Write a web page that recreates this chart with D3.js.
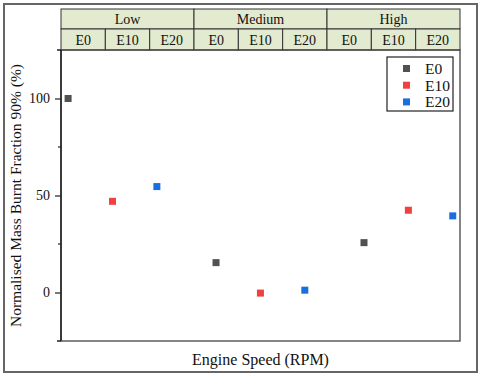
<!DOCTYPE html>
<html>
<head>
<meta charset="utf-8">
<script src="https://cdn.jsdelivr.net/npm/d3@7"></script>
<style>
  body { margin: 0; background: #fff; }
  text { font-family: "Liberation Serif", "Times New Roman", serif; fill: #111; }
</style>
</head>
<body>
<svg id="chart" width="480" height="377"></svg>
<script>
// speed groups and fuel blends
var groups = ['Low', 'Medium', 'High'];
var fuels = ['E0', 'E10', 'E20'];

// normalised MBF90 (%) per speed group
var valuesE0 = [100, 15.4, 25.7];
var valuesE10 = [47, -0.3, 42.4];
var valuesE20 = [54.6, 1.2, 39.5];

var yTicks = [0, 50, 100];
var yMinorTicks = [25, 75];

var colors = ['#515151', '#F14040', '#1A6FDF'];

var svg = d3.select('#chart');

// note: "top" is taken by window.top, so plot edges get their own names
var plotL = 61, plotR = 460, plotT = 50, plotB = 341, headTop = 9, headMid = 29;

var x = d3.scaleLinear().domain([0.84, 9.83]).range([plotL, plotR]);
var y = d3.scaleLinear().domain([-25, 125]).range([plotB, plotT]);

// outer frame
svg.append('rect')
  .attr('x', 4).attr('y', 4)
  .attr('width', 473).attr('height', 368)
  .attr('fill', 'none')
  .attr('stroke', '#666')
  .attr('stroke-width', 2);

// header table
var cells = [];
groups.forEach(function(g) {
  fuels.forEach(function(f) { cells.push(g + '|' + f); });
});
var gBand = d3.scaleBand().domain(groups).range([plotL, plotR]);
var cBand = d3.scaleBand().domain(cells).range([plotL, plotR]);

var head = svg.append('g');
head.selectAll('rect.grp')
  .data(groups)
  .enter().append('rect')
  .attr('class', 'grp')
  .attr('x', function(d) { return gBand(d); })
  .attr('y', headTop)
  .attr('width', gBand.bandwidth())
  .attr('height', headMid - headTop)
  .attr('fill', '#E2EACF')
  .attr('stroke', '#333')
  .attr('stroke-width', 1);
head.selectAll('text.grp')
  .data(groups)
  .enter().append('text')
  .attr('x', function(d) { return gBand(d) + gBand.bandwidth() / 2; })
  .attr('y', headMid - 5)
  .attr('text-anchor', 'middle')
  .style('font-size', '14px')
  .text(function(d) { return d; });

head.selectAll('rect.cell')
  .data(cells)
  .enter().append('rect')
  .attr('class', 'cell')
  .attr('x', function(d) { return cBand(d); })
  .attr('y', headMid)
  .attr('width', cBand.bandwidth())
  .attr('height', plotT - headMid)
  .attr('fill', '#E2EACF')
  .attr('stroke', '#333')
  .attr('stroke-width', 1);
head.selectAll('text.cell')
  .data(cells)
  .enter().append('text')
  .attr('x', function(d) { return cBand(d) + cBand.bandwidth() / 2; })
  .attr('y', plotT - 5)
  .attr('text-anchor', 'middle')
  .style('font-size', '14px')
  .text(function(d) { return d.split('|')[1]; });

// plot frame
svg.append('rect')
  .attr('x', plotL).attr('y', plotT)
  .attr('width', plotR - plotL).attr('height', plotB - plotT)
  .attr('fill', 'none')
  .attr('stroke', '#444')
  .attr('stroke-width', 1.3);

// axis lines poke out a little on the left
[plotT, plotB].forEach(function(yy) {
  svg.append('line')
    .attr('x1', plotL - 4).attr('x2', plotL)
    .attr('y1', yy).attr('y2', yy)
    .attr('stroke', '#222').attr('stroke-width', 1.5);
});
svg.append('line')
  .attr('x1', plotL).attr('x2', plotL)
  .attr('y1', plotT).attr('y2', plotB)
  .attr('stroke', '#222').attr('stroke-width', 1.5);

// y axis
var yAxis = svg.append('g')
  .attr('transform', 'translate(' + plotL + ',0)')
  .call(d3.axisLeft(y).tickValues(yTicks).tickSize(6).tickPadding(5));
yAxis.select('.domain').remove();
yAxis.selectAll('.tick line').attr('stroke', '#222').attr('stroke-width', 1.2);
yAxis.selectAll('.tick text')
  .style('font-family', '"Liberation Serif", serif')
  .style('font-size', '14px')
  .attr('fill', '#1c1c3a');

svg.append('g')
  .selectAll('line')
  .data(yMinorTicks)
  .enter().append('line')
  .attr('x1', plotL - 3).attr('x2', plotL)
  .attr('y1', function(d) { return y(d); })
  .attr('y2', function(d) { return y(d); })
  .attr('stroke', '#222').attr('stroke-width', 1.2);

// axis titles
svg.append('text')
  .attr('transform', 'translate(21,' + (plotT + plotB) / 2 + ') rotate(-90)')
  .attr('text-anchor', 'middle')
  .style('font-size', '15.5px')
  .text('Normalised Mass Burnt Fraction 90% (%)');

svg.append('text')
  .attr('x', (plotL + plotR) / 2)
  .attr('y', 365)
  .attr('text-anchor', 'middle')
  .style('font-size', '16px')
  .text('Engine Speed (RPM)');

// points
var series = [valuesE0, valuesE10, valuesE20];
var points = [];
series.forEach(function(vals, fi) {
  vals.forEach(function(v, gi) {
    points.push({ pos: 1 + gi * 10 / 3 + fi, value: v, color: colors[fi] });
  });
});

var s = 7;
svg.append('g')
  .selectAll('rect')
  .data(points)
  .enter().append('rect')
  .attr('x', function(d) { return x(d.pos) - s / 2; })
  .attr('y', function(d) { return y(d.value) - s / 2; })
  .attr('width', s)
  .attr('height', s)
  .attr('fill', function(d) { return d.color; });

// legend
var legend = svg.append('g').attr('transform', 'translate(387,57)');
legend.append('rect')
  .attr('width', 66).attr('height', 54)
  .attr('fill', '#fff')
  .attr('stroke', '#222')
  .attr('stroke-width', 1.2);
var entries = legend.selectAll('g.entry')
  .data(fuels)
  .enter().append('g')
  .attr('class', 'entry')
  .attr('transform', function(d, i) { return 'translate(0,' + (11.5 + i * 16.7) + ')'; });
entries.append('rect')
  .attr('x', 16).attr('y', -3.5)
  .attr('width', 7).attr('height', 7)
  .attr('fill', function(d, i) { return colors[i]; });
entries.append('text')
  .attr('x', 38).attr('y', 5.5)
  .style('font-size', '15.5px')
  .text(function(d) { return d; });
</script>
</body>
</html>
